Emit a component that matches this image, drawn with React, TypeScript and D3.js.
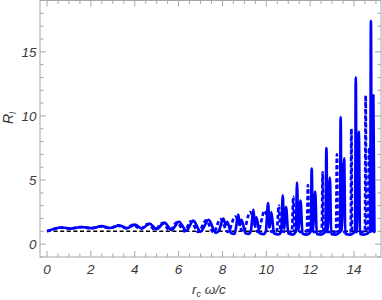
import { useEffect, useRef } from "react"
import * as d3 from "d3"

// solid blue curve (x, R_l)
const solidCurve: [number, number][] = [
  [0, 1.0], [0.3, 1.18], [0.67, 1.3], [1.1, 1.22], [1.58, 1.34], [2.05, 1.25],
  [2.49, 1.4], [2.9, 1.26], [3.3, 1.47], [3.65, 1.25], [4.0, 1.53], [4.33, 1.22],
  [4.67, 1.6], [5.0, 1.18], [5.35, 1.68], [5.68, 1.12], [6.02, 1.75], [6.35, 1.05],
  [6.67, 1.83], [7.0, 0.98], [7.37, 1.9], [7.7, 0.88],
  [7.85, 1.1], [8.04, 2.0], [8.15, 1.5], [8.22, 1.75], [8.4, 0.85], [8.55, 0.8],
  [8.6, 1.1], [8.72, 2.3], [8.8, 1.5], [8.87, 1.9], [9.05, 0.85], [9.2, 0.8],
  [9.3, 1.1], [9.41, 2.7], [9.48, 1.4], [9.55, 2.1], [9.7, 0.85], [9.88, 0.78],
  [9.98, 1.0], [10.08, 3.2], [10.15, 1.3], [10.23, 2.5], [10.35, 0.85], [10.55, 0.76],
  [10.68, 1.0], [10.75, 3.8], [10.81, 1.2], [10.9, 2.9], [11.0, 0.85], [11.2, 0.75],
  [11.35, 1.0], [11.4, 4.8], [11.46, 1.1], [11.56, 3.4], [11.65, 0.82], [11.85, 0.75],
  [12.03, 1.0], [12.07, 5.9], [12.12, 1.1], [12.23, 4.1], [12.3, 0.8], [12.5, 0.75],
  [12.7, 1.0], [12.74, 7.5], [12.79, 1.0], [12.9, 5.2], [12.96, 0.8], [13.15, 0.75],
  [13.36, 1.0], [13.39, 9.9], [13.43, 1.0], [13.55, 6.7], [13.6, 0.8], [13.8, 0.75],
  [14.05, 1.0], [14.08, 13.0], [14.12, 1.0], [14.22, 8.75], [14.27, 0.8], [14.45, 0.75],
  [14.74, 1.0], [14.77, 17.4], [14.81, 1.0], [14.88, 11.6], [14.93, 0.9],
]

// dashed blue curve
const dashedCurve: [number, number][] = [
  [0, 1.0], [0.3, 1.17], [0.62, 1.29], [1.05, 1.21], [1.52, 1.33], [2.0, 1.24],
  [2.42, 1.38], [2.85, 1.25], [3.22, 1.45], [3.6, 1.24], [3.92, 1.5], [4.27, 1.2],
  [4.58, 1.57], [4.93, 1.15], [5.26, 1.64], [5.6, 1.08], [5.92, 1.7], [6.27, 1.0],
  [6.56, 1.78], [6.9, 0.95], [7.25, 1.85], [7.6, 0.92], [7.9, 1.95], [8.25, 0.95],
  [8.58, 2.15], [8.95, 0.95], [9.26, 2.5], [9.62, 0.95], [9.92, 2.6], [10.25, 0.95],
  [10.48, 1.05], [10.57, 3.0], [10.65, 1.05], [10.95, 0.95],
  [11.17, 1.0], [11.23, 3.7], [11.29, 1.0], [11.6, 0.95],
  [11.85, 1.0], [11.9, 4.6], [11.95, 1.0], [12.25, 0.95],
  [12.53, 1.0], [12.57, 5.6], [12.61, 1.0], [12.9, 0.95],
  [13.18, 1.0], [13.22, 7.0], [13.26, 1.0], [13.55, 0.95],
  [13.85, 1.0], [13.88, 9.0], [13.91, 1.0], [14.2, 0.95],
  [14.5, 1.0], [14.53, 11.6], [14.56, 1.0], [14.64, 1.0], [14.7, 7.5], [14.74, 1.0],
  [14.95, 0.95],
]

// black dashed reference line
const referenceLine: [number, number][] = [[0, 1], [15, 1]]

const xMajorTicks = [0, 2, 4, 6, 8, 10, 12, 14]
const xMinorTicks = d3.range(0, 15.01, 0.5)
const yMajorTicks = [0, 5, 10, 15]
const yMinorTicks = d3.range(-1, 19.01, 1)

export default function App() {
  const svgRef = useRef<SVGSVGElement>(null)
  const width = 382
  const height = 300

  useEffect(() => {
    if (!svgRef.current) return
    const svg = d3.select(svgRef.current)
    svg.selectAll("*").remove()

    const left = 40
    const right = 381
    const top = 0.5
    const bottom = 257

    const x = d3.scaleLinear().domain([-0.32, 15.23]).range([left, right])
    const y = d3.scaleLinear().domain([-1, 19]).range([bottom, top])

    const frameColor = "#a6a6a6"
    const textColor = "#3a3a3a"
    const font = "'Liberation Sans', Arial, sans-serif"

    // plot area clip
    svg
      .append("clipPath")
      .attr("id", "plot-clip")
      .append("rect")
      .attr("x", left)
      .attr("y", top)
      .attr("width", right - left)
      .attr("height", bottom - top)

    const line = d3
      .line<[number, number]>()
      .x((d) => x(d[0]))
      .y((d) => y(d[1]))
      .curve(d3.curveMonotoneX)

    const plot = svg.append("g").attr("clip-path", "url(#plot-clip)")

    plot
      .append("path")
      .datum(referenceLine)
      .attr("fill", "none")
      .attr("stroke", "#000")
      .attr("stroke-width", 1.5)
      .attr("stroke-dasharray", "4,2.6")
      .attr("d", line)

    plot
      .append("path")
      .datum(dashedCurve)
      .attr("fill", "none")
      .attr("stroke", "#0000ff")
      .attr("stroke-width", 2.7)
      .attr("stroke-dasharray", "4,2.5")
      .attr("d", line)

    plot
      .append("path")
      .datum(solidCurve)
      .attr("fill", "none")
      .attr("stroke", "#0000ff")
      .attr("stroke-width", 2.7)
      .attr("stroke-linejoin", "round")
      .attr("d", line)

    // frame
    svg
      .append("rect")
      .attr("x", left)
      .attr("y", top)
      .attr("width", right - left)
      .attr("height", bottom - top)
      .attr("fill", "none")
      .attr("stroke", frameColor)
      .attr("stroke-width", 1)

    const ticks = svg.append("g").attr("stroke", frameColor).attr("stroke-width", 1)

    // x ticks (bottom and top, pointing inward)
    xMinorTicks.forEach((v) => {
      const major = xMajorTicks.includes(v)
      const len = major ? 6 : 3.5
      ticks.append("line").attr("x1", x(v)).attr("x2", x(v)).attr("y1", bottom).attr("y2", bottom - len)
      ticks.append("line").attr("x1", x(v)).attr("x2", x(v)).attr("y1", top).attr("y2", top + len)
    })

    // y ticks (left and right, pointing inward)
    yMinorTicks.forEach((v) => {
      const major = yMajorTicks.includes(v)
      const len = major ? 6 : 3.5
      ticks.append("line").attr("x1", left).attr("x2", left + len).attr("y1", y(v)).attr("y2", y(v))
      ticks.append("line").attr("x1", right).attr("x2", right - len).attr("y1", y(v)).attr("y2", y(v))
    })

    // tick labels
    svg
      .append("g")
      .selectAll("text")
      .data(xMajorTicks)
      .enter()
      .append("text")
      .attr("x", (d) => x(d))
      .attr("y", bottom + 17)
      .attr("text-anchor", "middle")
      .attr("font-family", font)
      .attr("font-style", "italic")
      .attr("font-size", 13.5)
      .attr("fill", textColor)
      .text((d) => d)

    svg
      .append("g")
      .selectAll("text")
      .data(yMajorTicks)
      .enter()
      .append("text")
      .attr("x", left - 3.5)
      .attr("y", (d) => y(d) + 5)
      .attr("text-anchor", "end")
      .attr("font-family", font)
      .attr("font-style", "italic")
      .attr("font-size", 13.5)
      .attr("fill", textColor)
      .text((d) => d)

    // axis labels
    const xLabel = svg
      .append("text")
      .attr("x", 209)
      .attr("y", 294)
      .attr("text-anchor", "middle")
      .attr("font-family", font)
      .attr("font-style", "italic")
      .attr("font-size", 13.5)
      .attr("fill", textColor)
    xLabel.append("tspan").text("r")
    xLabel.append("tspan").attr("font-size", 9).attr("dy", 3).text("c")
    xLabel.append("tspan").attr("dy", -3).text(" ω/c")

    const yLabel = svg
      .append("text")
      .attr("transform", `translate(13,118) rotate(-90)`)
      .attr("text-anchor", "middle")
      .attr("font-family", font)
      .attr("font-style", "italic")
      .attr("font-size", 14)
      .attr("fill", textColor)
    yLabel.append("tspan").text("R")
    yLabel.append("tspan").attr("font-size", 9).attr("dy", 3).text("l")
  }, [])

  return (
    <div style={{ position: "fixed", left: 0, top: 0, width, height, background: "#fff" }}>
      <svg ref={svgRef} width={width} height={height} style={{ display: "block" }} />
    </div>
  )
}
